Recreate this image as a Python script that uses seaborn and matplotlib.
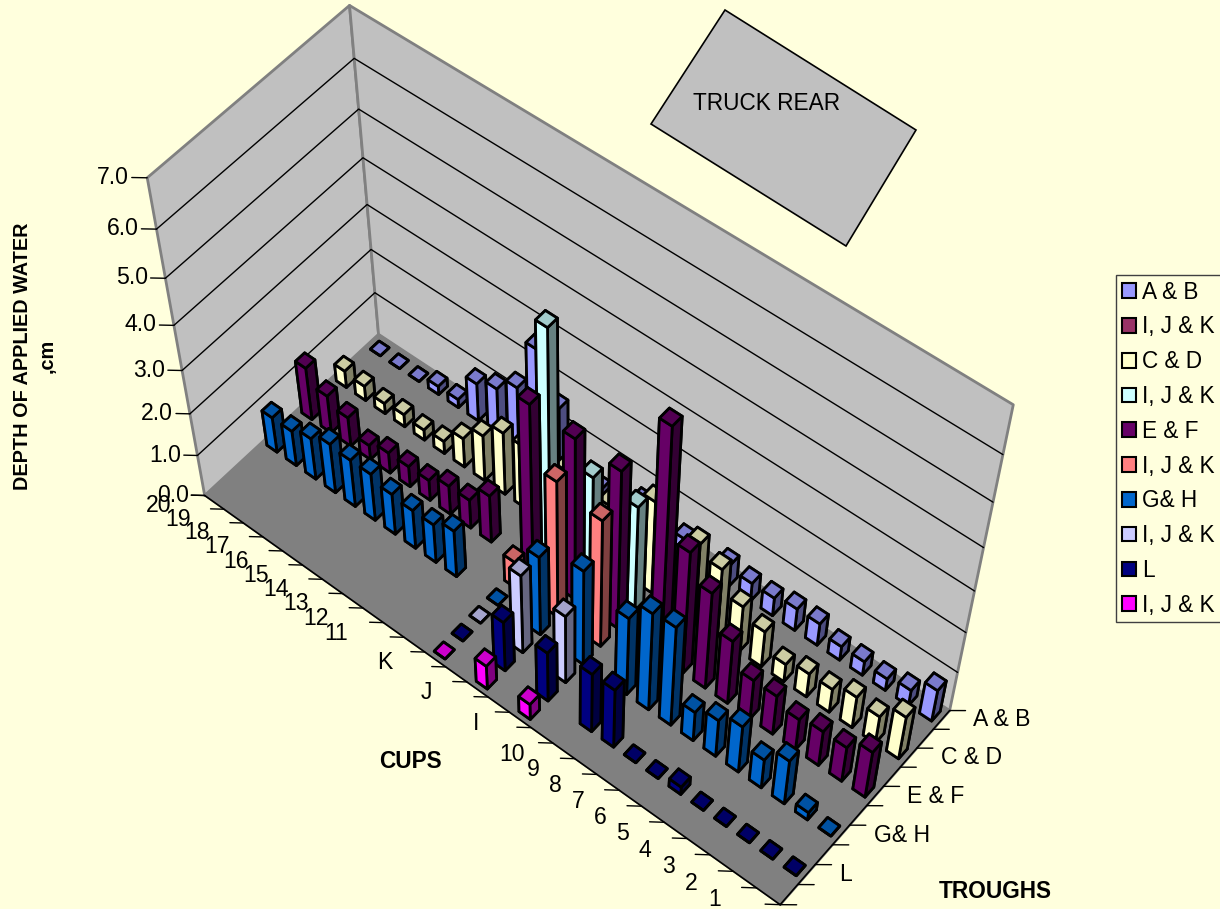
import numpy as np
import pandas as pd
import seaborn as sns
import matplotlib.pyplot as plt
from matplotlib.patches import Patch, Polygon
from mpl_toolkits.mplot3d import proj3d
from mpl_toolkits.mplot3d.art3d import Poly3DCollection

W, H = 1220, 909
BG = "#FFFFDD"

# cups along the long axis, front corner first
cups_low = [str(i) for i in range(1, 11)]
cups_high = [str(i) for i in range(11, 21)]
cup_labels = cups_low + ["", "I", "", "J", "", "K", ""] + cups_high

trough_ticks = ["L", "G& H", "E & F", "C & D", "A & B"]
series_names = ["A & B", "I, J & K", "C & D", "I, J & K", "E & F",
                "I, J & K", "G& H", "I, J & K", "L", "I, J & K"]
series_colors = ["#9999FF", "#993366", "#FFFFCC", "#CCFFFF", "#660066",
                 "#FF8080", "#0066CC", "#CCCCFF", "#000080", "#FF00FF"]
depth_ticks = [0, 1, 2, 3, 4, 5, 6, 7]

# depth of water, cups 1-10 / I J K / cups 11-20
ab_low = [0.8, 0.4, 0.3, 0.35, 0.35, 0.55, 0.55, 0.45, 0.45, 0.55]
ab_ijk = [0.45, 0.65, 0.3]
ab_high = [1.6, 2.65, 1.45, 1.1, 0.9, 0.2, 0.2, 0, 0, 0]
cd_low = [1.1, 0.7, 0.8, 0.6, 0.6, 0.45, 0.9, 1.15, 1.7, 1.95]
cd_ijk = [2.25, 1.45, 1.6]
cd_high = [1.5, 1.5, 1.1, 0.7, 0.3, 0.25, 0.3, 0.25, 0.35, 0.4]
ef_low = [1.2, 0.9, 0.9, 0.8, 1.0, 1.0, 1.6, 2.4, 3.0, 5.45]
ef_ijk = [3.8, 3.85, 3.95]
ef_high = [1.15, 0.7, 0.7, 0.5, 0.5, 0.5, 0.35, 0.7, 0.9, 1.25]
gh_low = [0, 0.2, 1.15, 0.75, 1.2, 0.95, 0.75, 2.5, 2.45, 1.95]
gh_ijk = [2.35, 1.95, 0]
gh_high = [1.15, 0.95, 0.95, 1.0, 1.15, 1.15, 1.2, 1.0, 0.85, 0.85]
l_low = [0, 0, 0, 0, 0, 0.2, 0, 0, 1.5, 1.5]
l_ijk = [1.25, 1.25, 0]
ijk_cyan = [2.55, 2.55, 5.2]
ijk_salmon = [3.1, 3.3, 0.65]
ijk_lavender = [1.7, 1.95, 0]
ijk_magenta = [0.4, 0.6, 0]


def row(low=None, ijk=None, high=None):
    low = low if low is not None else [np.nan] * 10
    high = high if high is not None else [np.nan] * 10
    i, j, k = ijk if ijk is not None else [np.nan] * 3
    return low + [np.nan, i, np.nan, j, np.nan, k, np.nan] + high


rows = [row(ab_low, ab_ijk, ab_high), row(), row(cd_low, cd_ijk, cd_high), row(ijk=ijk_cyan),
        row(ef_low, ef_ijk, ef_high), row(ijk=ijk_salmon), row(gh_low, gh_ijk, gh_high),
        row(ijk=ijk_lavender), row(l_low, l_ijk), row(ijk=ijk_magenta)]
df = pd.DataFrame(rows, columns=range(len(cup_labels)))

sns.set_style("white")
plt.rcParams["font.family"] = ["Liberation Sans", "DejaVu Sans"]
plt.rcParams["text.color"] = "black"
palette = sns.color_palette(series_colors)

fig = plt.figure(figsize=(W / 100, H / 100), dpi=100, facecolor=BG)
side = W / H
ax = fig.add_axes([0, (1 - side) / 2, 1, side], projection="3d", computed_zorder=False)
ax.set_xticks([])
ax.set_yticks([])
ax.set_zticks([])
ax.set_axis_off()
ax.patch.set_alpha(0)
ax.apply_aspect()

nx, ny, nz = len(cup_labels), len(series_names), 7


def fit_camera():
    # corners of the chart box and where they sit in the picture
    world = [(0, 0, 0), (nx, 0, 0), (0, ny, 0), (nx, ny, 0), (nx, 0, nz), (nx, ny, nz), (0, ny, nz)]
    pixels = [(780, 905), (205, 495), (950, 710), (378, 335), (147, 178), (350, 5), (1013, 405)]
    inv = ax.transData.inverted()
    uv = inv.transform([(p[0], H - p[1]) for p in pixels])
    us = np.abs(uv).max()
    A = []
    for (x, y, z), (u, v) in zip(world, uv / us):
        x, y, z = x / nx, y / ny, z / nz
        A.append([x, y, z, 1, 0, 0, 0, 0, -u * x, -u * y, -u * z, -u])
        A.append([0, 0, 0, 0, x, y, z, 1, -v * x, -v * y, -v * z, -v])
    P = np.linalg.svd(np.array(A))[2][-1].reshape(3, 4)
    P = np.diag([us, us, 1]) @ P @ np.diag([1 / nx, 1 / ny, 1 / nz, 1])
    if P[2, 3] < 0:
        P = -P
    return np.vstack([P[0], P[1], [0, 0, 0, -1], P[2]])


M = fit_camera()
ax.get_proj = lambda: M


def label(x, y, z, text, **kw):
    u, v, _ = proj3d.proj_transform(x, y, z, M)
    ax.text2D(u, v, text, transform=ax.transData, fontsize=16.6, zorder=3, **kw)


# walls and floor
wall_left = [(nx, 0, 0), (nx, ny, 0), (nx, ny, nz), (nx, 0, nz)]
wall_back = [(0, ny, 0), (nx, ny, 0), (nx, ny, nz), (0, ny, nz)]
floor = [(0, 0, 0), (nx, 0, 0), (nx, ny, 0), (0, ny, 0)]
ax.add_collection3d(Poly3DCollection([wall_left, wall_back], facecolor="#C0C0C0",
                                     edgecolor="#808080", linewidth=2, zorder=1))
ax.add_collection3d(Poly3DCollection([floor], facecolor="#808080", edgecolor="#808080",
                                     linewidth=1, zorder=1))
for z in depth_ticks[1:-1]:
    ax.plot([nx, nx, 0], [0, ny, ny], [z, z, z], color="black", lw=1, zorder=2)
ax.plot([0, nx], [0, 0], [0, 0], color="black", lw=1.2, zorder=2)
ax.plot([0, 0], [0, ny], [0, 0], color="black", lw=1.2, zorder=2)

# ticks run flat across the picture, these are the data steps for that
left_a, left_b = 0.405, -0.311
right_a, right_b = -0.433, 0.355
down_a, down_b = -0.126, -0.159

for c in range(nx + 1):
    ax.plot([c, c + left_a], [0, left_b], [0, 0], color="black", lw=1, zorder=2)
for c, lab in enumerate(cup_labels):
    if lab == "":
        continue
    reach = 4.1 if c >= 17 else (3.1 if lab == "I" else 3.6)
    label(c + 0.5 + left_a * reach + down_a, left_b * reach + down_b, 0, lab,
          ha="center", va="center")
for r in range(ny + 1):
    ax.plot([0, right_a], [r, r + right_b], [0, 0], color="black", lw=1, zorder=2)
for i, lab in enumerate(trough_ticks):
    r = 1.5 + 2 * i
    label(right_a * 2.0, r + right_b * 2.0, 0, lab, ha="left", va="center")
for z in depth_ticks:
    ax.plot([nx, nx + left_a], [0, left_b], [z, z], color="black", lw=1, zorder=2)
    label(nx + left_a * 1.2, left_b * 1.2, z, f"{z:.1f}", ha="right", va="center")

# bars, far ones first so the near ones cover them
bar_w = 0.52
order = 10
for i in range(ny):
    for c in range(nx - 1, -1, -1):
        val = df.iloc[i, c]
        if np.isnan(val):
            continue
        base = np.array(palette[i])
        top = base * 0.8
        faces = [top, top, base, base, base * 0.5, base * 0.5]
        y0 = ny - 1 - i + (1 - bar_w) / 2
        x0 = c + (1 - bar_w) / 2
        ax.bar3d(x0, y0, 0, bar_w, bar_w, val, color=faces, shade=False,
                 edgecolor="black", linewidth=2, zorder=order)
        order += 1

# truck outline
truck = np.array([(725, 10), (916, 130), (846, 246), (651, 124)], dtype=float)
truck = truck / [W, H]
truck[:, 1] = 1 - truck[:, 1]
fig.add_artist(Polygon(truck, closed=True, facecolor="#C0C0C0", edgecolor="black", lw=1.2,
                       transform=fig.transFigure))
fig.text(693 / W, 1 - 104 / H, "TRUCK REAR", fontsize=16.3, ha="left", va="center")

fig.text(35 / W, 1 - 356 / H, "DEPTH OF APPLIED WATER\n,cm", rotation=90, fontsize=14.3,
         fontweight="bold", ha="center", va="center", multialignment="center", linespacing=1.4)
fig.text(410 / W, 1 - 761 / H, "CUPS", fontsize=16.3, fontweight="bold", ha="center", va="center")
fig.text(995 / W, 1 - 892 / H, "TROUGHS", fontsize=16.3, fontweight="bold", ha="center", va="center")

handles = [Patch(facecolor=palette[i], edgecolor="black", linewidth=1.5, label=series_names[i])
           for i in range(ny)]
fig.legend(handles=handles, loc="upper left", bbox_to_anchor=(1116 / W, 1 - 275 / H),
           bbox_transform=fig.transFigure, borderaxespad=0, fancybox=False, edgecolor="#404040",
           facecolor=BG, framealpha=1, fontsize=16.3, handlelength=0.62, handleheight=0.62,
           handletextpad=0.3, labelspacing=0.52, borderpad=0.25)

fig.savefig("out.png", dpi=100, facecolor=BG)
